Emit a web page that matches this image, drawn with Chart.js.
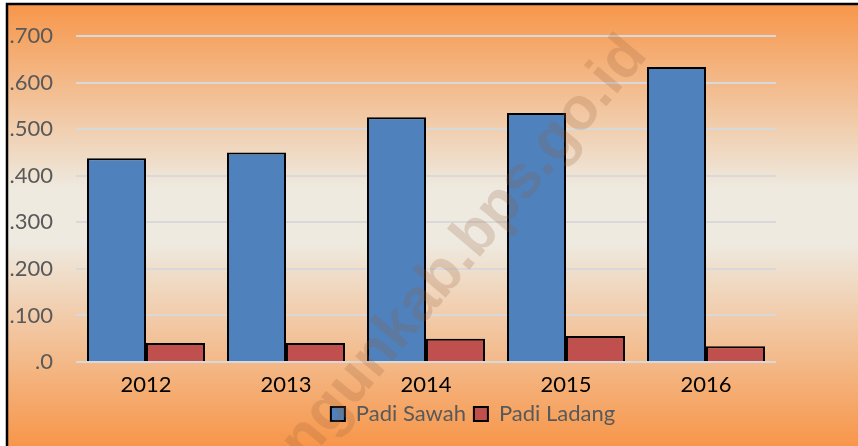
<!DOCTYPE html>
<html>
<head>
<meta charset="utf-8">
<script src="https://cdn.jsdelivr.net/npm/chart.js@4"></script>
<style>
  html, body { margin: 0; padding: 0; background: #fff; }
  #wrap { width: 858px; height: 446px; }
</style>
</head>
<body>
<div id="wrap"><canvas id="chart" width="858" height="446"></canvas></div>
<script>
const years = ['2012', '2013', '2014', '2015', '2016'];
const padiSawah = [438, 450, 526, 535, 634];
const padiLadang = [41, 41, 50, 56, 34];
const yTicks = [0, 100, 200, 300, 400, 500, 600, 700];

// gradient background + frame
const backdrop = {
    id: 'backdrop',
    beforeDraw(chart) {
        const ctx = chart.ctx;
        const w = chart.width, h = chart.height;
        ctx.save();
        const g = ctx.createLinearGradient(0, 4, 0, h);
        g.addColorStop(0, '#F7964A');
        g.addColorStop(0.42, '#EEEAE0');
        g.addColorStop(0.54, '#EEEAE0');
        g.addColorStop(1, '#F7964A');
        ctx.fillStyle = g;
        ctx.fillRect(7, 4, w - 7, h - 4);
        ctx.strokeStyle = '#000';
        ctx.lineWidth = 2.5;
        ctx.beginPath();
        ctx.moveTo(7, h);
        ctx.lineTo(7, 4);
        ctx.lineTo(w, 4);
        ctx.stroke();
        ctx.restore();
    }
};

// legend sits right of centre in the original
const legendShift = {
    id: 'legendShift',
    afterLayout(chart) {
        chart.legend.left += 85;
        chart.legend.right += 85;
    }
};

// diagonal watermark
const watermark = {
    id: 'watermark',
    afterDraw(chart) {
        const ctx = chart.ctx;
        ctx.save();
        ctx.translate(454, 262);
        ctx.rotate(-50 * Math.PI / 180);
        ctx.font = 'bold 60px "Liberation Sans", sans-serif';
        ctx.fillStyle = 'rgba(150, 95, 60, 0.22)';
        ctx.textBaseline = 'middle';
        ctx.textAlign = 'right';
        ctx.fillText('bungunkab', 0, 0);
        ctx.textAlign = 'left';
        ctx.fillText('.bps.go.id', 0, 0);
        ctx.restore();
    }
};

new Chart(document.getElementById('chart'), {
    type: 'bar',
    data: {
        labels: years,
        datasets: [
            {
                label: 'Padi Sawah',
                data: padiSawah,
                backgroundColor: '#4F81BD',
                borderColor: '#000',
                borderWidth: 2,
                categoryPercentage: 0.843,
                barPercentage: 1
            },
            {
                label: 'Padi Ladang',
                data: padiLadang,
                backgroundColor: '#C0504D',
                borderColor: '#000',
                borderWidth: 2,
                categoryPercentage: 0.843,
                barPercentage: 1
            }
        ]
    },
    options: {
        responsive: false,
        animation: false,
        layout: { padding: { left: 0, right: 82, top: 32, bottom: 11 } },
        plugins: {
            tooltip: { enabled: false },
            legend: {
                position: 'bottom',
                labels: {
                    boxWidth: 14,
                    boxHeight: 14,
                    padding: 8,
                    color: '#595959',
                    font: { family: 'Lato', size: 22 }
                }
            }
        },
        scales: {
            x: {
                grid: { display: false, drawTicks: false },
                border: { display: false },
                ticks: { color: '#000', padding: 10, font: { family: 'Lato', size: 22 } },
                afterFit(scale) { scale.height = 33; }
            },
            y: {
                min: 0,
                max: 700,
                afterBuildTicks(scale) { scale.ticks = yTicks.map(v => ({ value: v })); },
                grid: { color: '#D9D9D9', lineWidth: 2, drawTicks: false },
                border: { display: false },
                ticks: {
                    color: '#595959',
                    padding: 23,
                    font: { family: 'Lato', size: 22 },
                    callback: v => '.' + v
                },
                afterFit(scale) { scale.width = 76; }
            }
        }
    },
    plugins: [backdrop, legendShift, watermark]
});
</script>
</body>
</html>
